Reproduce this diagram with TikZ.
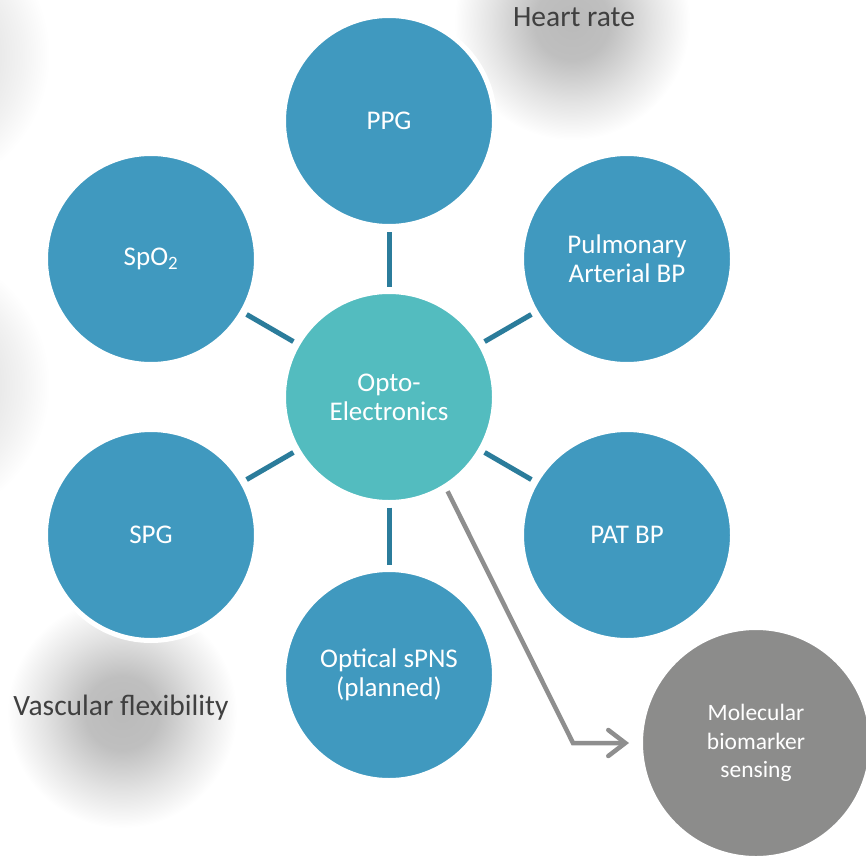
\documentclass[tikz,border=0pt]{standalone}
\usepackage{fontspec}
\setmainfont{Carlito}
\usetikzlibrary{arrows.meta}

\definecolor{nodeblue}{HTML}{4099BF}
\definecolor{hubteal}{HTML}{53BCBF}
\definecolor{linkblue}{HTML}{2B7C9B}
\definecolor{futuregray}{HTML}{8C8C8B}
\definecolor{arrowgray}{HTML}{8E8E8E}
\definecolor{labelgray}{HTML}{404040}

% soft grey halo: dark plateau fading to white at the rim (rim = 25bp for \shade)
\pgfdeclareradialshading{halo}{\pgfpointorigin}{%
  color(0bp)=(black!27); color(8bp)=(black!25); color(17bp)=(black!11); color(25bp)=(white); color(50bp)=(white)}
\pgfdeclareradialshading{faint}{\pgfpointorigin}{%
  color(0bp)=(black!14); color(14bp)=(black!10); color(20bp)=(black!5); color(25bp)=(white); color(50bp)=(white)}

\begin{document}
\begin{tikzpicture}[x=1pt,y=-1pt,
  disc/.style={circle, inner sep=0pt, minimum size=211pt, draw=white, line width=5pt,
    fill=nodeblue, text=white, align=center, font=\fontsize{27}{29}\selectfont},
  hubdisc/.style={disc, fill=hubteal},
  graydisc/.style={disc, fill=futuregray, minimum size=231pt, font=\fontsize{23.5}{28.5}\selectfont},
  link/.style={draw=linkblue, line width=5pt, shorten <=2.5pt, shorten >=2.5pt},
  pointer/.style={draw=arrowgray, line width=4.5pt, line join=miter, shorten <=3pt, shorten >=9pt,
    -{Straight Barb[length=17pt, width=26pt, line cap=round]}},
  halolabel/.style={anchor=base, text=labelgray, font=\fontsize{29.5}{32}\selectfont}]

\clip (0,0) rectangle (866,859);
\fill[white] (0,0) rectangle (866,859);

% background halos
\shade[shading=faint] (-90,55) circle (140);
\shade[shading=faint] (-90,385) circle (140);
\shade[shading=halo] (572,22) circle (118);
\shade[shading=halo] (122,713) circle (115);

% discs
\node[hubdisc] (opto) at (389,397) {Opto-\\Electronics};
\node[disc] (ppg)  at (389,121) {PPG};
\node[disc] (spo)  at (151,259) {SpO\textsubscript{2}};
\node[disc] (pap)  at (627,259) {Pulmonary\\Arterial BP};
\node[disc] (spg)  at (151,535) {SPG};
\node[disc] (pat)  at (627,535) {PAT BP};
\node[disc] (spns) at (389,675) {Optical sPNS\\(planned)};
\node[graydisc] (mol) at (756,743) {Molecular\\biomarker\\sensing};

% spokes from the hub
\draw[link] (opto) -- (ppg);
\draw[link] (opto) -- (spo);
\draw[link] (opto) -- (pap);
\draw[link] (opto) -- (spg);
\draw[link] (opto) -- (pat);
\draw[link] (opto) -- (spns);

% pointer to the future sensing node
\coordinate (bend) at (573,743);
\draw[pointer] (opto.-58) -- (bend) -- (mol);

% halo labels
\node[halolabel] (hr) at (574,27) {Heart rate};
\node[halolabel] (vf) at (121,715) {Vascular flexibility};
\end{tikzpicture}
\end{document}
